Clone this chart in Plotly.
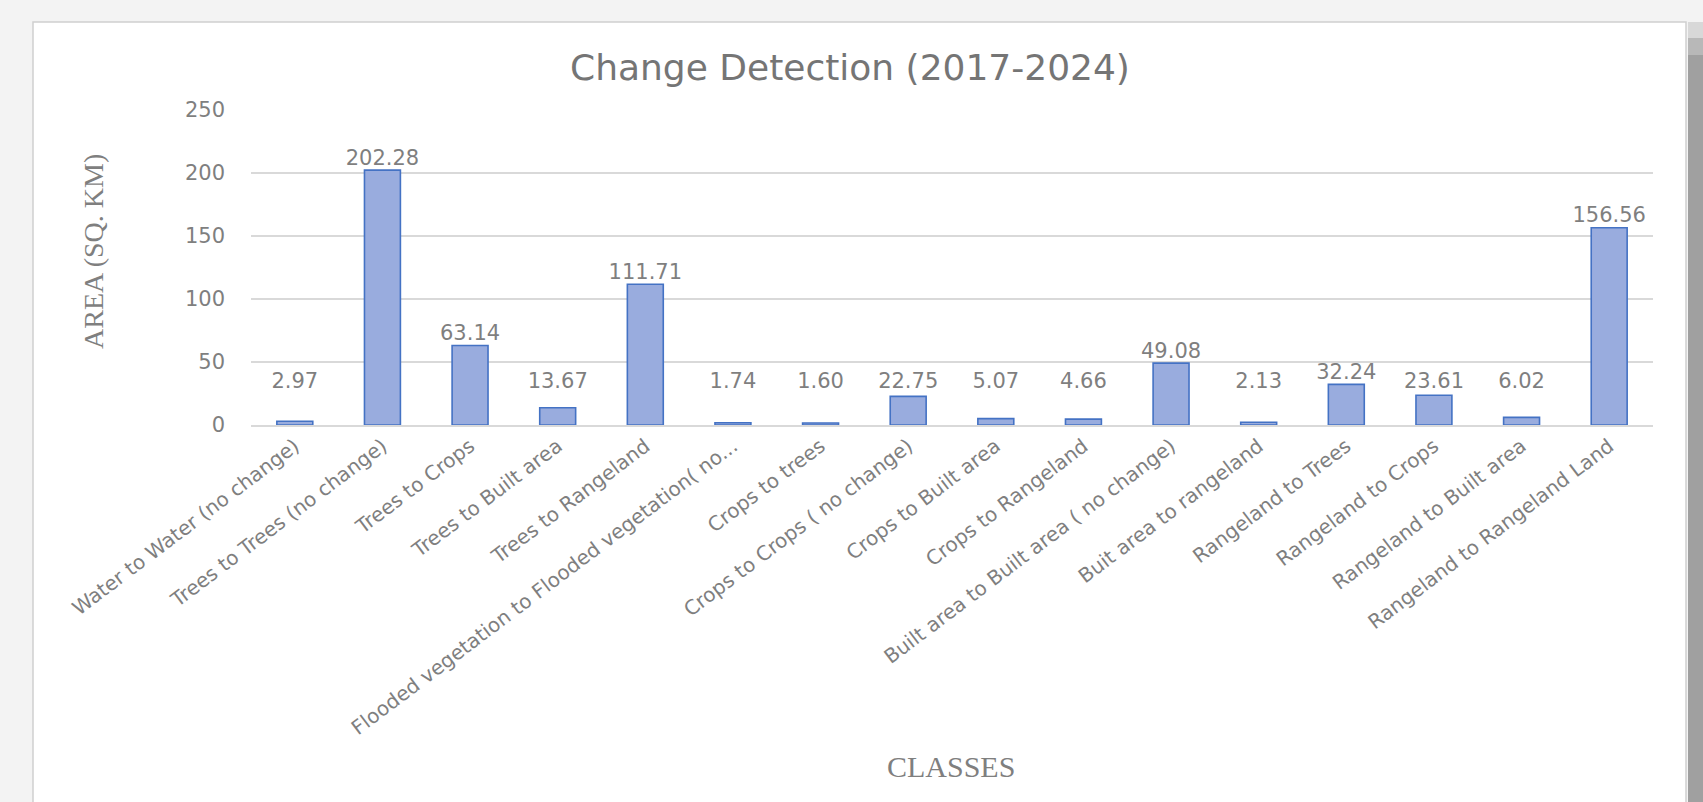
import plotly.graph_objects as go

categories = [
    "Water to Water (no change)",
    "Trees to Trees (no change)",
    "Trees to Crops",
    "Trees to Built area",
    "Trees to Rangeland",
    "Flooded vegetation to Flooded vegetation( no...",
    "Crops to trees",
    "Crops to Crops ( no change)",
    "Crops to Built area",
    "Crops to Rangeland",
    "Built area to Built area ( no change)",
    "Buit area to rangeland",
    "Rangeland to Trees",
    "Rangeland to Crops",
    "Rangeland to Built area",
    "Rangeland to Rangeland Land",
]
areas = [2.97, 202.28, 63.14, 13.67, 111.71, 1.74, 1.60, 22.75,
         5.07, 4.66, 49.08, 2.13, 32.24, 23.61, 6.02, 156.56]
y_ticks = [0, 50, 100, 150, 200, 250]

W, H = 1703, 802
ML, MR, MT, MB = 251, 50, 110, 377
PW, PH = W - ML - MR, H - MT - MB


def px(x):
    return (x - ML) / PW


def py(y):
    return (H - MB - y) / PH


GRAY = "#7f7f7f"
FONT = "DejaVu Sans"
SERIF = "Liberation Serif"

# label placement: labels of small bars are lifted to a minimum height
label_floor = 25
label_y = [max(v, label_floor) for v in areas]

fig = go.Figure()
fig.add_trace(go.Bar(
    x=categories, y=areas,
    marker=dict(color="#99acde", line=dict(color="#4472c4", width=1.6)),
    hoverinfo="x+y",
))
fig.add_trace(go.Scatter(
    x=categories, y=label_y, mode="text",
    text=[f"{v:.2f}" for v in areas],
    textposition="top center",
    textfont=dict(family=FONT, size=21, color=GRAY),
    hoverinfo="skip",
))

shapes = [
    # card
    dict(type="rect", xref="paper", yref="paper", layer="below",
         x0=px(33), x1=px(1686), y0=py(H + 20), y1=py(22),
         fillcolor="white", line=dict(color="#d0d0d0", width=1.5)),
    # right dark strip
    dict(type="rect", xref="paper", yref="paper", layer="below",
         x0=px(1688), x1=px(1703), y0=py(H + 20), y1=py(55),
         fillcolor="#a0a0a0", line=dict(width=0)),
    dict(type="rect", xref="paper", yref="paper", layer="below",
         x0=px(1688), x1=px(1703), y0=py(55), y1=py(38),
         fillcolor="#b8b8b8", line=dict(width=0)),
    dict(type="rect", xref="paper", yref="paper", layer="below",
         x0=px(1688), x1=px(1703), y0=py(38), y1=py(22),
         fillcolor="#d8d8d8", line=dict(width=0)),
]

annotations = [
    dict(text="Change Detection (2017-2024)", xref="paper", yref="paper",
         x=px(850), y=py(67), xanchor="center", yanchor="middle",
         showarrow=False, font=dict(family=FONT, size=36, color="#757575")),
    dict(text="AREA (SQ. KM)", xref="paper", yref="paper",
         x=px(94), y=py(252), xanchor="center", yanchor="middle", textangle=-90,
         showarrow=False, font=dict(family=SERIF, size=28, color=GRAY)),
    dict(text="CLASSES", xref="paper", yref="paper",
         x=px(951), y=py(767), xanchor="center", yanchor="middle",
         showarrow=False, font=dict(family=SERIF, size=30, color=GRAY)),
]

fig.update_layout(
    width=W, height=H,
    margin=dict(l=ML, r=MR, t=MT, b=MB, autoexpand=False),
    paper_bgcolor="#f3f3f3",
    plot_bgcolor="rgba(0,0,0,0)",
    showlegend=False,
    bargap=0.59,
    shapes=shapes,
    annotations=annotations,
    xaxis=dict(
        range=[-0.5, len(categories) - 0.5],
        tickangle=-37, tickfont=dict(family=FONT, size=20, color=GRAY),
        showgrid=False, showline=True, linecolor="#d9d9d9", linewidth=1.5,
        ticks="", automargin=False,
    ),
    yaxis=dict(
        range=[0, 250], tickvals=y_ticks,
        tickfont=dict(family=FONT, size=21, color=GRAY),
        showgrid=True, gridcolor="#d9d9d9", gridwidth=1.5,
        zeroline=False, showline=False, ticks="",
        ticklabelstandoff=25, automargin=False,
    ),
)

fig.write_html(
    "out.html",
    config={"displayModeBar": False},
    post_script="document.body.style.margin='0px';"
                "document.body.style.overflow='hidden';",
)
